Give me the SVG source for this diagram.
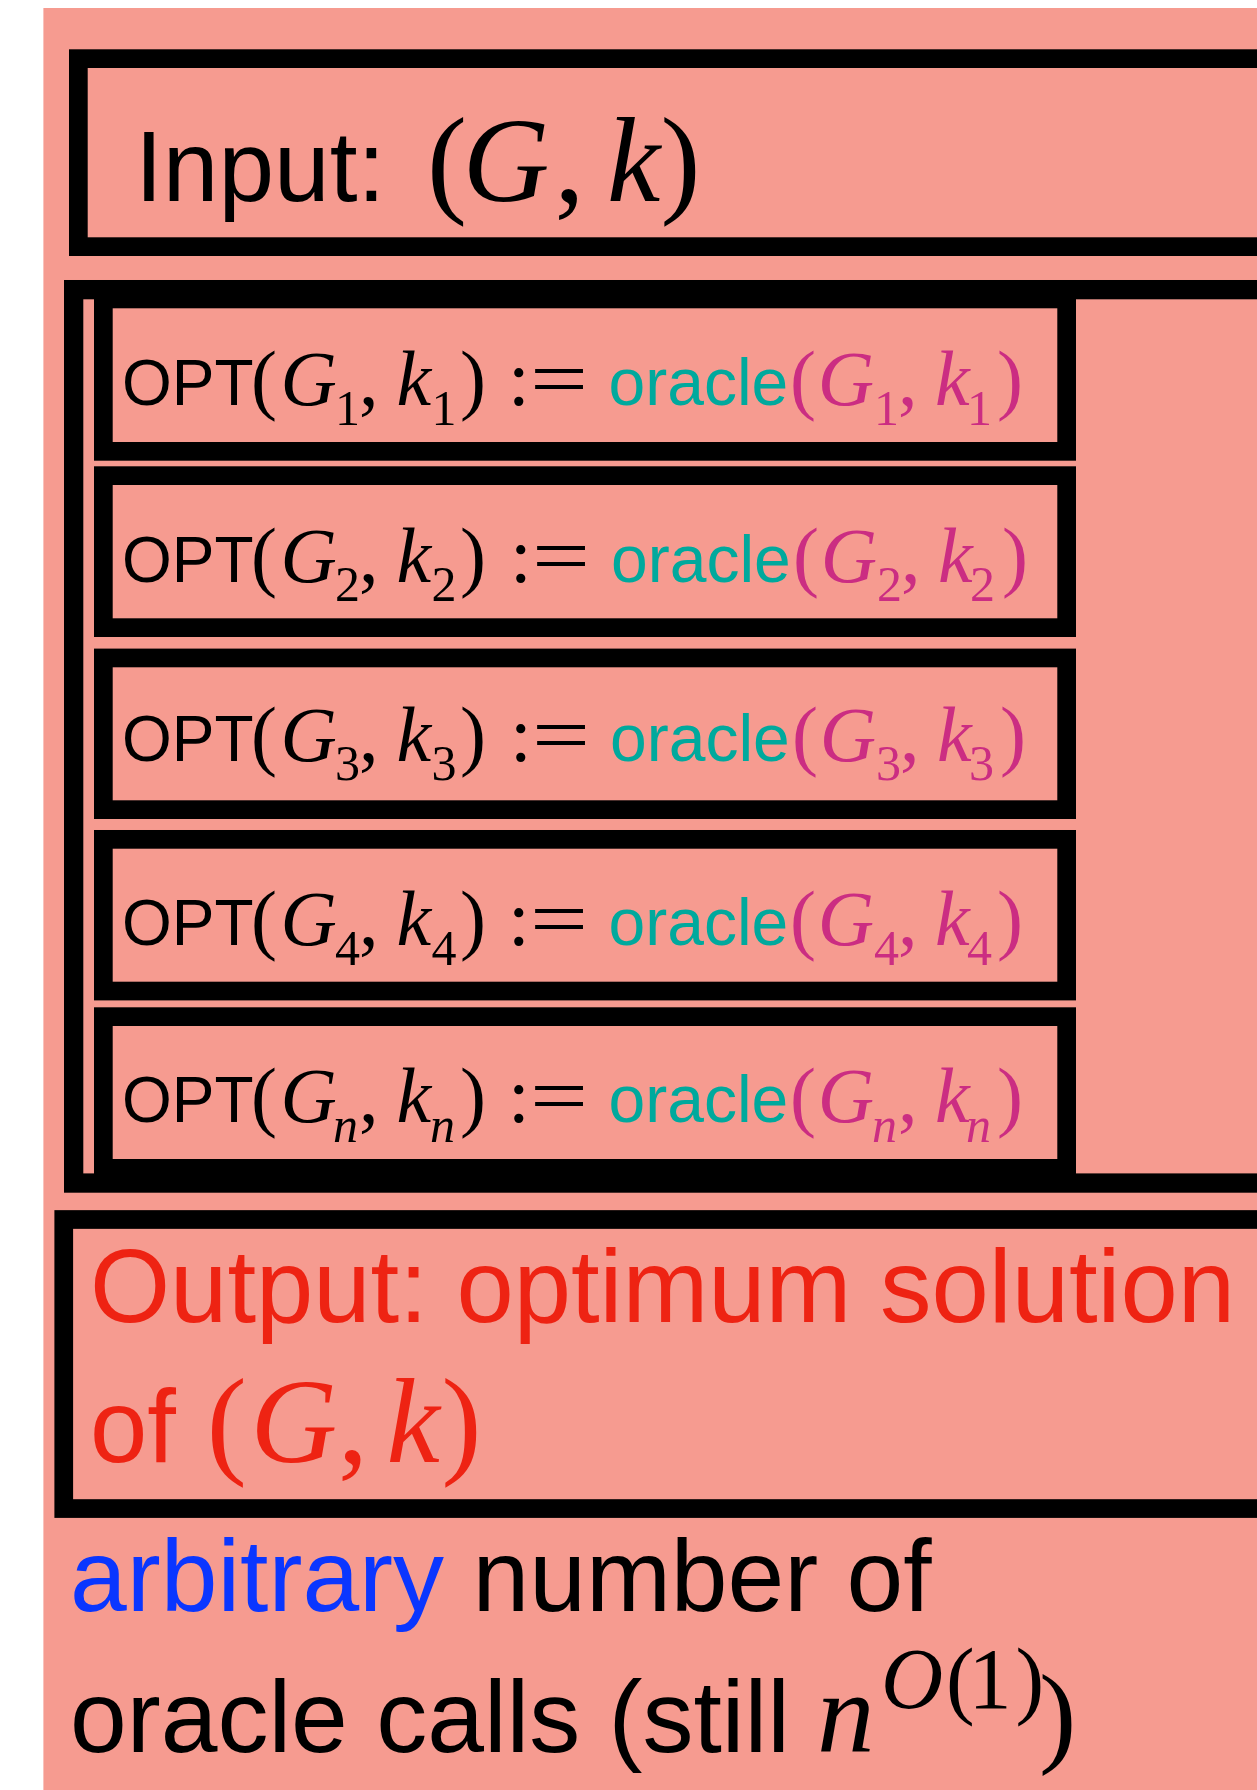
<svg xmlns="http://www.w3.org/2000/svg" width="1257" height="1790" viewBox="0 0 1257 1790">
<style>
.sans{font-family:"Liberation Sans",Arial,Helvetica,sans-serif}
.ser{font-family:"Liberation Serif","Times New Roman",serif}
.it{font-style:italic}
.frame{fill:none;stroke:#000;stroke-width:18.7}
.teal{fill:#00A99D}
.mag{fill:#CB2D82}
.red{fill:#EE2313}
.blue{fill:#0A36FF}
.blk{fill:#000}
</style>
<rect x="0" y="0" width="1257" height="1790" fill="#FFFFFF"/>
<rect x="43.4" y="8" width="1220" height="1790" fill="#F69B90"/>

<g id="input">
<rect class="frame" x="78.35" y="58.65" width="1250" height="188"/>
<text class="sans blk" x="135" y="201" font-size="100">Input:</text>
<text class="ser blk" y="201" font-size="120"><tspan x="427">(</tspan><tspan class="it" x="462.8">G</tspan><tspan x="554.6">,</tspan><tspan class="it" x="607">k</tspan><tspan x="660.5">)</tspan></text>
</g>

<g id="loop">
<rect class="frame" x="73.65" y="289.65" width="1250" height="893.4" style="stroke-width:19.3"/>
</g>

<g id="call1">
<rect class="frame" x="103.35" y="298.95" width="963.3" height="152.4"/>
<text class="sans blk" x="122" y="405" font-size="64">OPT</text>
<text class="ser blk" y="405" font-size="78"><tspan x="251">(</tspan><tspan class="it" x="280.5">G</tspan><tspan x="335" y="424.5" font-size="50">1</tspan><tspan x="359" y="405">,</tspan><tspan class="it" x="396.5">k</tspan><tspan x="431.5" y="424.5" font-size="50">1</tspan><tspan x="460" y="405">)</tspan><tspan x="508">:</tspan></text>
<text class="ser blk" x="530" y="405" font-size="78" textLength="58" lengthAdjust="spacingAndGlyphs">=</text>
<text class="sans teal" x="608.5" y="405" font-size="66">oracle</text>
<text class="ser mag" y="405" font-size="78"><tspan x="790">(</tspan><tspan class="it" x="817.8">G</tspan><tspan x="874" y="424.5" font-size="50">1</tspan><tspan x="898" y="405">,</tspan><tspan class="it" x="935">k</tspan><tspan x="967" y="424.5" font-size="50">1</tspan><tspan x="997" y="405">)</tspan></text>
</g>

<g id="call2">
<rect class="frame" x="103.35" y="475.65" width="963.3" height="152"/>
<text class="sans blk" x="122" y="581.7" font-size="64">OPT</text>
<text class="ser blk" y="581.7" font-size="78"><tspan x="251">(</tspan><tspan class="it" x="280.5">G</tspan><tspan x="335" y="601.2" font-size="50">2</tspan><tspan x="359" y="581.7">,</tspan><tspan class="it" x="396.5">k</tspan><tspan x="431.5" y="601.2" font-size="50">2</tspan><tspan x="460" y="581.7">)</tspan><tspan x="510">:</tspan></text>
<text class="ser blk" x="532" y="581.7" font-size="78" textLength="58" lengthAdjust="spacingAndGlyphs">=</text>
<text class="sans teal" x="611" y="581.7" font-size="66">oracle</text>
<text class="ser mag" y="581.7" font-size="78"><tspan x="793">(</tspan><tspan class="it" x="820.8">G</tspan><tspan x="877" y="601.2" font-size="50">2</tspan><tspan x="901" y="581.7">,</tspan><tspan class="it" x="938">k</tspan><tspan x="970" y="601.2" font-size="50">2</tspan><tspan x="1002" y="581.7">)</tspan></text>
</g>

<g id="call3">
<rect class="frame" x="103.35" y="657.95" width="963.3" height="151.7"/>
<text class="sans blk" x="122" y="760.7" font-size="64">OPT</text>
<text class="ser blk" y="760.7" font-size="78"><tspan x="251">(</tspan><tspan class="it" x="280.5">G</tspan><tspan x="335" y="780.2" font-size="50">3</tspan><tspan x="359" y="760.7">,</tspan><tspan class="it" x="396.5">k</tspan><tspan x="431.5" y="780.2" font-size="50">3</tspan><tspan x="460" y="760.7">)</tspan><tspan x="510">:</tspan></text>
<text class="ser blk" x="532" y="760.7" font-size="78" textLength="58" lengthAdjust="spacingAndGlyphs">=</text>
<text class="sans teal" x="610" y="760.7" font-size="66">oracle</text>
<text class="ser mag" y="760.7" font-size="78"><tspan x="792">(</tspan><tspan class="it" x="819.8">G</tspan><tspan x="876" y="780.2" font-size="50">3</tspan><tspan x="900" y="760.7">,</tspan><tspan class="it" x="937">k</tspan><tspan x="969" y="780.2" font-size="50">3</tspan><tspan x="1000" y="760.7">)</tspan></text>
</g>

<g id="call4">
<rect class="frame" x="103.35" y="839.35" width="963.3" height="151.7"/>
<text class="sans blk" x="122" y="945" font-size="64">OPT</text>
<text class="ser blk" y="945" font-size="78"><tspan x="251">(</tspan><tspan class="it" x="280.5">G</tspan><tspan x="335" y="964.5" font-size="50">4</tspan><tspan x="359" y="945">,</tspan><tspan class="it" x="396.5">k</tspan><tspan x="431.5" y="964.5" font-size="50">4</tspan><tspan x="460" y="945">)</tspan><tspan x="508">:</tspan></text>
<text class="ser blk" x="530" y="945" font-size="78" textLength="58" lengthAdjust="spacingAndGlyphs">=</text>
<text class="sans teal" x="608.5" y="945" font-size="66">oracle</text>
<text class="ser mag" y="945" font-size="78"><tspan x="790">(</tspan><tspan class="it" x="817.8">G</tspan><tspan x="874" y="964.5" font-size="50">4</tspan><tspan x="898" y="945">,</tspan><tspan class="it" x="935">k</tspan><tspan x="967" y="964.5" font-size="50">4</tspan><tspan x="997" y="945">)</tspan></text>
</g>

<g id="calln">
<rect class="frame" x="103.35" y="1016.65" width="963.3" height="151.7"/>
<text class="sans blk" x="122" y="1122.3" font-size="64">OPT</text>
<text class="ser blk" y="1122.3" font-size="78"><tspan x="251">(</tspan><tspan class="it" x="280.5">G</tspan><tspan class="it" x="333" y="1142" font-size="50">n</tspan><tspan x="359" y="1122.3">,</tspan><tspan class="it" x="396.5">k</tspan><tspan class="it" x="430" y="1142" font-size="50">n</tspan><tspan x="460" y="1122.3">)</tspan><tspan x="508">:</tspan></text>
<text class="ser blk" x="530" y="1122.3" font-size="78" textLength="58" lengthAdjust="spacingAndGlyphs">=</text>
<text class="sans teal" x="608.5" y="1122.3" font-size="66">oracle</text>
<text class="ser mag" y="1122.3" font-size="78"><tspan x="790">(</tspan><tspan class="it" x="817.8">G</tspan><tspan class="it" x="872" y="1142" font-size="50">n</tspan><tspan x="898" y="1122.3">,</tspan><tspan class="it" x="935">k</tspan><tspan class="it" x="966" y="1142" font-size="50">n</tspan><tspan x="997" y="1122.3">)</tspan></text>
</g>

<g id="output">
<rect class="frame" x="63.75" y="1219.5" width="1250" height="289.05"/>
<text class="sans red" x="90" y="1321.7" font-size="103">Output: optimum solution</text>
<text class="sans red" x="90" y="1461.7" font-size="103">of</text>
<text class="ser red" y="1461.7" font-size="120"><tspan x="206.7">(</tspan><tspan class="it" x="250.4">G</tspan><tspan x="338">,</tspan><tspan class="it" x="386.6">k</tspan><tspan x="441.5">)</tspan></text>
</g>

<g id="note">
<text class="sans blk" x="70" y="1610.7" font-size="102"><tspan class="blue">arbitrary</tspan> number of</text>
<text class="sans blk" x="70" y="1751.7" font-size="102">oracle calls (still</text>
<text class="ser blk it" x="817" y="1751.7" font-size="115">n</text>
<text class="ser blk" y="1707.7" font-size="86"><tspan class="it" x="881">O</tspan><tspan x="946">(</tspan><tspan x="968.5">1</tspan><tspan x="1015.5">)</tspan></text>
<text class="ser blk" x="1039" y="1751.7" font-size="112">)</text>
</g>

<g id="connectors"></g>
</svg>
